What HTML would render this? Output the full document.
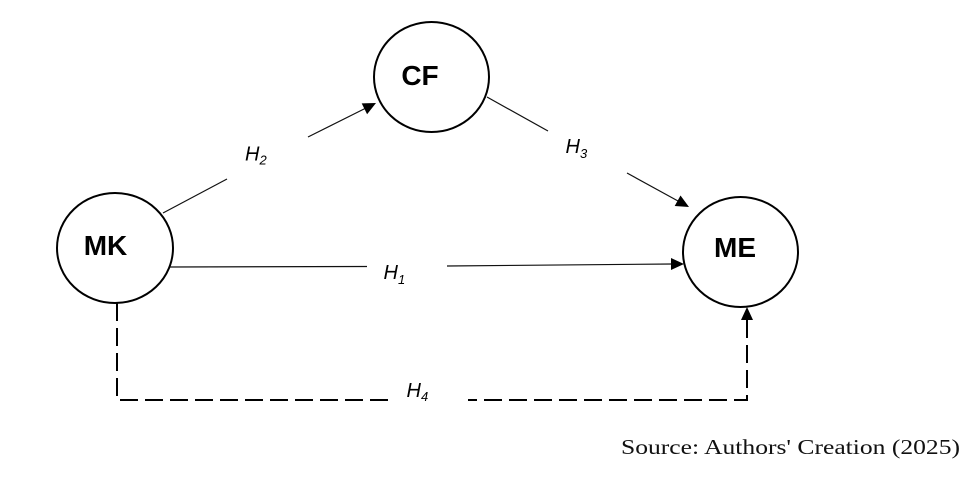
<!DOCTYPE html>
<html>
<head>
<meta charset="utf-8">
<style>
html,body{margin:0;padding:0;background:#fff;}
svg{display:block;}
</style>
</head>
<body>
<svg width="980" height="484" viewBox="0 0 980 484" xmlns="http://www.w3.org/2000/svg">
<rect width="980" height="484" fill="#fff"/>
<!-- circles -->
<ellipse cx="431.5" cy="77" rx="57.5" ry="55" fill="none" stroke="#000" stroke-width="2"/>
<ellipse cx="115" cy="248" rx="58" ry="55" fill="none" stroke="#000" stroke-width="2"/>
<ellipse cx="740.5" cy="252" rx="57.5" ry="55" fill="none" stroke="#000" stroke-width="2"/>
<!-- node labels -->
<g font-family="'Liberation Sans', sans-serif" font-weight="bold" font-size="28" fill="#000" text-anchor="middle">
<text x="420" y="85">CF</text>
<text x="105.5" y="255">MK</text>
<text x="735" y="257">ME</text>
</g>
<!-- solid connectors -->
<g stroke="#111" stroke-width="1.2" fill="none">
<line x1="163" y1="213" x2="227" y2="179"/>
<line x1="308" y1="137" x2="365" y2="108.5"/>
<line x1="487" y1="97" x2="548" y2="131"/>
<line x1="627" y1="173" x2="678" y2="201"/>
<line x1="170" y1="267" x2="367" y2="266.5"/>
<line x1="447" y1="266" x2="672" y2="264"/>
</g>
<!-- arrowheads -->
<g fill="#000">
<polygon points="376,103 367.1,114.2 361.7,103.4"/>
<polygon points="689,207 674.7,206 680.5,195.5"/>
<polygon points="684,264 671,258 671,270"/>
<polygon points="747,307 741,320 753,320"/>
</g>
<!-- dashed connector -->
<g stroke="#000" stroke-width="2" fill="none" stroke-dasharray="18 7">
<path d="M117,303 V400 H390"/>
<path d="M747,320 V400 H468"/>
</g>
<!-- hypothesis labels -->
<g font-family="'Liberation Sans', sans-serif" font-style="italic" fill="#000">
<text x="245" y="160.5" font-size="20">H<tspan font-size="13" dy="4">2</tspan></text>
<text x="383.5" y="279" font-size="20">H<tspan font-size="13" dy="5">1</tspan></text>
<text x="565.5" y="153" font-size="20">H<tspan font-size="13" dy="5">3</tspan></text>
<text x="406.5" y="397" font-size="20">H<tspan font-size="13" dy="4">4</tspan></text>
</g>
<!-- source -->
<text x="621" y="454" font-family="'Liberation Serif', serif" font-size="21" fill="#111" textLength="339" lengthAdjust="spacingAndGlyphs">Source: Authors' Creation (2025)</text>
</svg>
</body>
</html>
